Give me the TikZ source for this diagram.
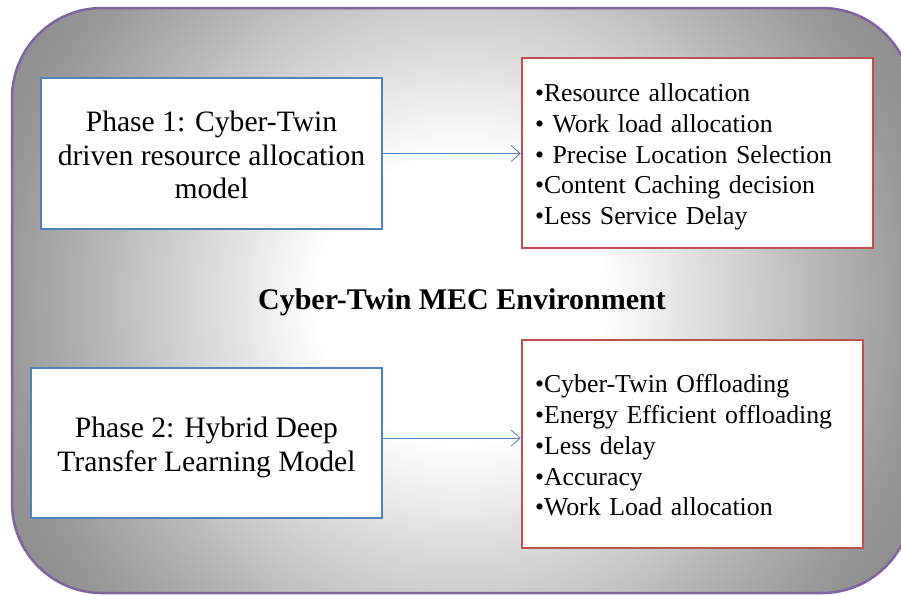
\documentclass[tikz,border=0pt]{standalone}
\usepackage{fontspec}
\setmainfont{Liberation Serif}
\usetikzlibrary{positioning,arrows.meta}
\definecolor{phaseblue}{HTML}{4F81BD}
\definecolor{listred}{HTML}{C0504D}
\definecolor{envpurple}{HTML}{8064A2}
\pgfdeclareradialshading{mecglow}{\pgfpoint{0bp}{0bp}}{color(0bp)=(white); color(6.5bp)=(white); color(20.5bp)=(black!40); color(25bp)=(black!47); color(50bp)=(black!55)}
\newcommand{\padtop}[1]{\rule{0pt}{#1}}
\tikzset{
  phase/.style={draw=phaseblue, line width=2.5pt, fill=white, align=center,
    font=\fontsize{29.6}{33.8}\selectfont},
  outcome/.style={draw=listred, line width=2.5pt, fill=white, align=left,
    inner xsep=13pt, font=\fontsize{25.8}{30.7}\selectfont},
  link/.style={draw=phaseblue, line width=0.8pt, -{Straight Barb[length=9pt,width=16pt]}}
}

\begin{document}
\begin{tikzpicture}[x=1pt,y=-1pt]
\useasboundingbox (0,0) rectangle (901,595);
% environment panel
\begin{scope}
\clip[rounded corners=90pt] (12,8) rectangle (912,593);
\shade[shading=mecglow] (-90,-250) rectangle (1010,850);
\end{scope}
\draw[envpurple, line width=2.5pt, rounded corners=90pt] (12,8) rectangle (912,593);

% phase 1
\node[phase, minimum width=341pt, minimum height=151pt] (phase1) at (211.5,153.5)
{\padtop{23.5pt}Phase 1: Cyber-Twin\\driven resource allocation\\model};
\node[outcome, text width=325pt, minimum height=190pt] (list1) at (697.5,153)
{\padtop{26pt}•Resource allocation\\• Work load allocation\\• Precise Location Selection\\•Content Caching decision\\•Less Service Delay};

\node[font=\bfseries\fontsize{30}{34}\selectfont] (env) at (462,302) {Cyber-Twin MEC Environment};

% phase 2
\node[phase, minimum width=351pt, minimum height=150pt] (phase2) at (206.5,443)
{\padtop{29pt}Phase 2: Hybrid Deep\\Transfer Learning Model};
\node[outcome, text width=315pt, minimum height=208pt] (list2) at (692.5,444)
{\padtop{21pt}•Cyber-Twin Offloading\\•Energy Efficient offloading\\•Less delay\\•Accuracy\\•Work Load allocation};

\draw[link] (phase1.east) -- (phase1.east -| list1.west);
\draw[link] ([yshift=5pt]phase2.east) -- ([yshift=5pt]phase2.east -| list2.west);
\end{tikzpicture}
\end{document}
